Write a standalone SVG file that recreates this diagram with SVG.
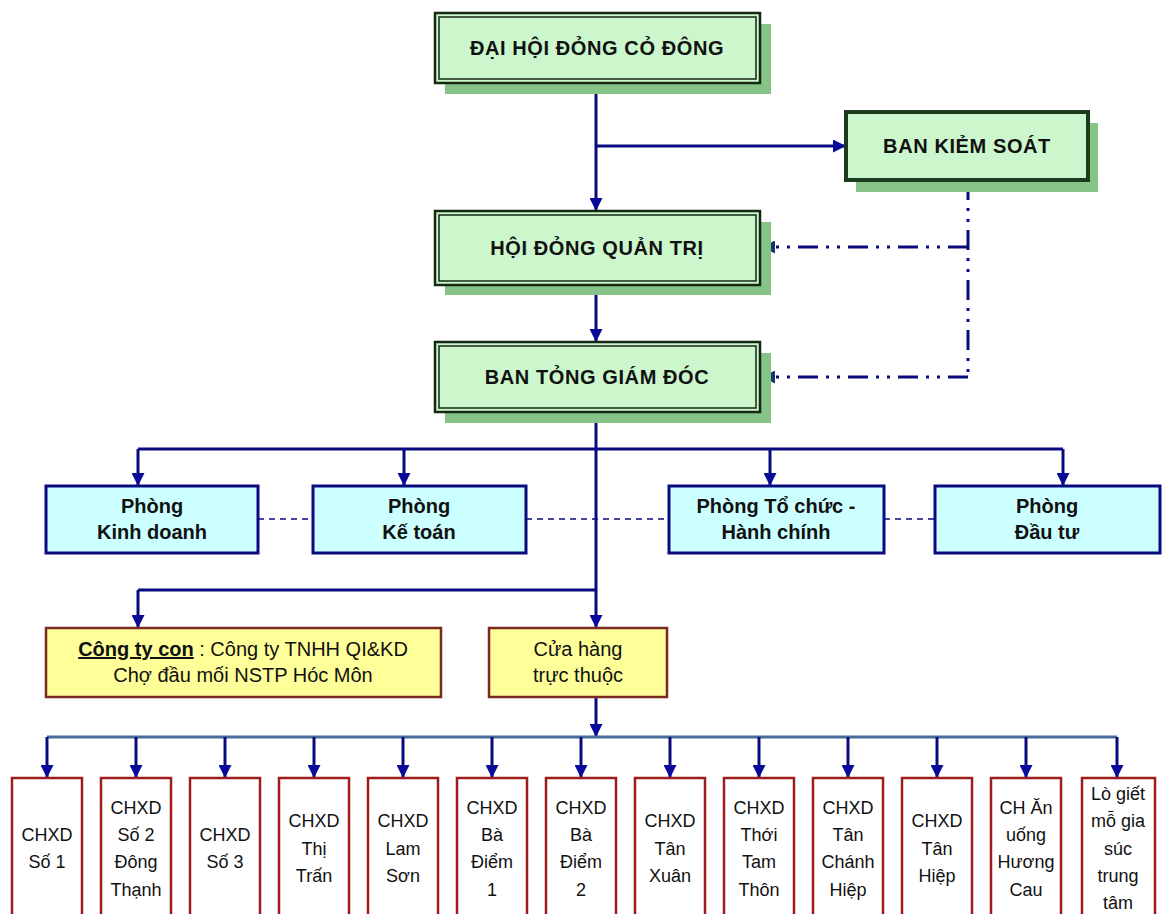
<svg xmlns="http://www.w3.org/2000/svg" width="1174" height="914" viewBox="0 0 1174 914">
<defs>
<marker id="arr" viewBox="0 0 10 10" refX="10" refY="5" markerWidth="14" markerHeight="13" markerUnits="userSpaceOnUse" orient="auto"><path d="M0,0 L10,5 L0,10 z" fill="#0a0a9a"/></marker>
<marker id="arr2" viewBox="0 0 10 10" refX="10" refY="5" markerWidth="14" markerHeight="13" markerUnits="userSpaceOnUse" orient="auto"><path d="M0,0 L10,5 L0,10 z" fill="#103a6a"/></marker>
<style>
.sh{fill:#86c386}
.gb{fill:#ccf7cc;stroke:#142814;stroke-width:2.5}
.gi{fill:none;stroke:#142814;stroke-width:1.5}
.bk{fill:#ccf7cc;stroke:#1c3a1c;stroke-width:4}
.cy{fill:#ccffff;stroke:#0a0a80;stroke-width:3}
.ye{fill:#ffff99;stroke:#7a2a20;stroke-width:2.5}
.rd{fill:#ffffff;stroke:#a01c1c;stroke-width:2.5}
.t{font-family:"Liberation Sans",Arial,sans-serif;fill:#111;text-anchor:middle}
.tb{font-weight:bold;font-size:20px}
.tt{font-weight:bold;font-size:20px;letter-spacing:0.6px}
.tn{font-size:20px}
.ts{font-size:18px}
.ln{fill:none;stroke:#0a0a80;stroke-width:3}
.dd{fill:none;stroke:#0a0a80;stroke-width:3;stroke-dasharray:20 8 3 8 3 8}
.da{fill:none;stroke:#0a0a80;stroke-width:1.5;stroke-dasharray:6 5}
.bar{fill:none;stroke:#4a6c9c;stroke-width:3}
</style>
</defs>

<g id="connectors">
<path class="ln" d="M596,83 V211" marker-end="url(#arr)"/>
<path class="ln" d="M596,146 H846" marker-end="url(#arr)"/>
<path class="ln" d="M596,285 V342" marker-end="url(#arr)"/>
<path class="dd" d="M968,180 V377"/>
<path class="dd" d="M968,247 H762" marker-end="url(#arr2)"/>
<path class="dd" d="M968,377 H762" marker-end="url(#arr2)"/>
<path class="ln" d="M596,412 V628" marker-end="url(#arr)"/>
<path class="ln" d="M138,449 H1063"/>
<path class="ln" d="M138,449 V486" marker-end="url(#arr)"/>
<path class="ln" d="M404,449 V486" marker-end="url(#arr)"/>
<path class="ln" d="M770,449 V486" marker-end="url(#arr)"/>
<path class="ln" d="M1063,449 V486" marker-end="url(#arr)"/>
<path class="da" d="M258,519 H313 M526,519 H669 M884,519 H935"/>
<path class="ln" d="M138,590 H596"/>
<path class="ln" d="M138,590 V628" marker-end="url(#arr)"/>
<path class="ln" d="M596,697 V737" marker-end="url(#arr)"/>
<path class="bar" d="M47,737 H1117"/>
<path class="ln" d="M47,737 V778" marker-end="url(#arr)"/>
<path class="ln" d="M136,737 V778" marker-end="url(#arr)"/>
<path class="ln" d="M225,737 V778" marker-end="url(#arr)"/>
<path class="ln" d="M314,737 V778" marker-end="url(#arr)"/>
<path class="ln" d="M403,737 V778" marker-end="url(#arr)"/>
<path class="ln" d="M492,737 V778" marker-end="url(#arr)"/>
<path class="ln" d="M581,737 V778" marker-end="url(#arr)"/>
<path class="ln" d="M670,737 V778" marker-end="url(#arr)"/>
<path class="ln" d="M759,737 V778" marker-end="url(#arr)"/>
<path class="ln" d="M848,737 V778" marker-end="url(#arr)"/>
<path class="ln" d="M937,737 V778" marker-end="url(#arr)"/>
<path class="ln" d="M1026,737 V778" marker-end="url(#arr)"/>
<path class="ln" d="M1117,737 V778" marker-end="url(#arr)"/>
</g>

<g id="dhdcd">
<rect class="sh" x="445" y="24" width="326" height="70"/>
<rect class="gb" x="435" y="13" width="325" height="70"/>
<rect class="gi" x="439" y="17" width="317" height="62"/>
<text class="t tt" x="597" y="55">ĐẠI HỘI ĐỎNG CỎ ĐÔNG</text>
</g>

<g id="bks">
<rect class="sh" x="856" y="123" width="242" height="69"/>
<rect class="bk" x="846" y="112" width="242" height="68"/>
<text class="t tt" x="967" y="153">BAN KIẺM SOÁT</text>
</g>

<g id="hdqt">
<rect class="sh" x="445" y="222" width="326" height="73"/>
<rect class="gb" x="435" y="211" width="325" height="74"/>
<rect class="gi" x="439" y="215" width="317" height="66"/>
<text class="t tt" x="597" y="255">HỘI ĐỎNG QUẢN TRỊ</text>
</g>

<g id="btgd">
<rect class="sh" x="445" y="353" width="326" height="70"/>
<rect class="gb" x="435" y="342" width="325" height="70"/>
<rect class="gi" x="439" y="346" width="317" height="62"/>
<text class="t tt" x="597" y="384">BAN TỎNG GIÁM ĐÓC</text>
</g>

<g id="p-kd">
<rect class="cy" x="46" y="486" width="212" height="67"/>
<text class="t tb" x="152" y="513">Phòng</text>
<text class="t tb" x="152" y="539">Kinh doanh</text>
</g>
<g id="p-kt">
<rect class="cy" x="313" y="486" width="213" height="67"/>
<text class="t tb" x="419" y="513">Phòng</text>
<text class="t tb" x="419" y="539">Kế toán</text>
</g>
<g id="p-tc">
<rect class="cy" x="669" y="486" width="215" height="67"/>
<text class="t tb" x="776" y="513">Phòng Tổ chức -</text>
<text class="t tb" x="776" y="539">Hành chính</text>
</g>
<g id="p-dt">
<rect class="cy" x="935" y="486" width="225" height="67"/>
<text class="t tb" x="1047" y="513">Phòng</text>
<text class="t tb" x="1047" y="539">Đầu tư</text>
</g>

<g id="cty-con">
<rect class="ye" x="46" y="628" width="395" height="69"/>
<text class="t tn" x="243" y="656"><tspan font-weight="bold" text-decoration="underline">Công ty con</tspan> : Công ty TNHH QI&amp;KD</text>
<text class="t tn" x="243" y="682">Chợ đầu mối NSTP Hóc Môn</text>
</g>

<g id="cua-hang">
<rect class="ye" x="489" y="628" width="178" height="69"/>
<text class="t tn" x="578" y="656">Cửa hàng</text>
<text class="t tn" x="578" y="682">trực thuộc</text>
</g>

<g id="ch1"><rect class="rd" x="12" y="778" width="70" height="142"/><text class="t ts" x="47" y="841">CHXD</text><text class="t ts" x="47" y="868">Số 1</text></g>
<g id="ch2"><rect class="rd" x="101" y="778" width="70" height="142"/><text class="t ts" x="136" y="813.5">CHXD</text><text class="t ts" x="136" y="841">Số 2</text><text class="t ts" x="136" y="868">Đông</text><text class="t ts" x="136" y="895.5">Thạnh</text></g>
<g id="ch3"><rect class="rd" x="190" y="778" width="70" height="142"/><text class="t ts" x="225" y="841">CHXD</text><text class="t ts" x="225" y="868">Số 3</text></g>
<g id="ch4"><rect class="rd" x="279" y="778" width="70" height="142"/><text class="t ts" x="314" y="827">CHXD</text><text class="t ts" x="314" y="854.5">Thị</text><text class="t ts" x="314" y="882">Trấn</text></g>
<g id="ch5"><rect class="rd" x="368" y="778" width="70" height="142"/><text class="t ts" x="403" y="827">CHXD</text><text class="t ts" x="403" y="854.5">Lam</text><text class="t ts" x="403" y="882">Sơn</text></g>
<g id="ch6"><rect class="rd" x="457" y="778" width="70" height="142"/><text class="t ts" x="492" y="813.5">CHXD</text><text class="t ts" x="492" y="841">Bà</text><text class="t ts" x="492" y="868">Điểm</text><text class="t ts" x="492" y="895.5">1</text></g>
<g id="ch7"><rect class="rd" x="546" y="778" width="70" height="142"/><text class="t ts" x="581" y="813.5">CHXD</text><text class="t ts" x="581" y="841">Bà</text><text class="t ts" x="581" y="868">Điểm</text><text class="t ts" x="581" y="895.5">2</text></g>
<g id="ch8"><rect class="rd" x="635" y="778" width="70" height="142"/><text class="t ts" x="670" y="827">CHXD</text><text class="t ts" x="670" y="854.5">Tân</text><text class="t ts" x="670" y="882">Xuân</text></g>
<g id="ch9"><rect class="rd" x="724" y="778" width="70" height="142"/><text class="t ts" x="759" y="813.5">CHXD</text><text class="t ts" x="759" y="841">Thới</text><text class="t ts" x="759" y="868">Tam</text><text class="t ts" x="759" y="895.5">Thôn</text></g>
<g id="ch10"><rect class="rd" x="813" y="778" width="70" height="142"/><text class="t ts" x="848" y="813.5">CHXD</text><text class="t ts" x="848" y="841">Tân</text><text class="t ts" x="848" y="868">Chánh</text><text class="t ts" x="848" y="895.5">Hiệp</text></g>
<g id="ch11"><rect class="rd" x="902" y="778" width="70" height="142"/><text class="t ts" x="937" y="827">CHXD</text><text class="t ts" x="937" y="854.5">Tân</text><text class="t ts" x="937" y="882">Hiệp</text></g>
<g id="ch12"><rect class="rd" x="991" y="778" width="70" height="142"/><text class="t ts" x="1026" y="813.5">CH Ăn</text><text class="t ts" x="1026" y="841">uống</text><text class="t ts" x="1026" y="868">Hương</text><text class="t ts" x="1026" y="895.5">Cau</text></g>
<g id="ch13"><rect class="rd" x="1082" y="778" width="73" height="142"/><text class="t ts" x="1118" y="800">Lò giết</text><text class="t ts" x="1118" y="827">mỗ gia</text><text class="t ts" x="1118" y="854.5">súc</text><text class="t ts" x="1118" y="882">trung</text><text class="t ts" x="1118" y="909">tâm</text></g>
</svg>
